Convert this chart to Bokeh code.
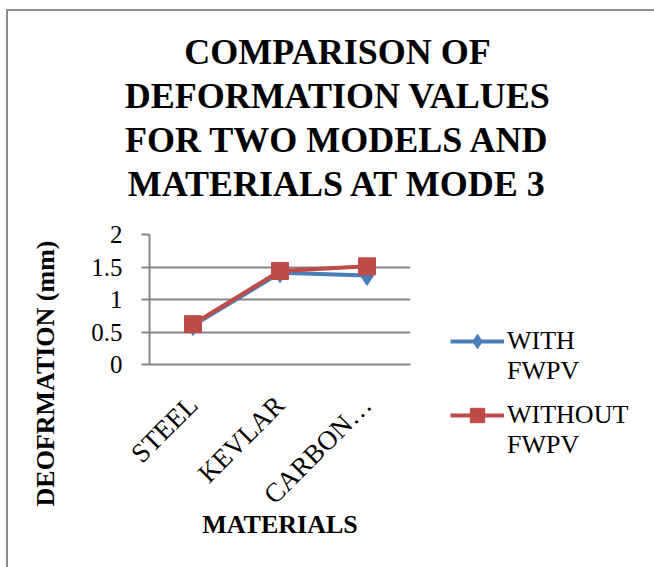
import math
from bokeh.plotting import figure
from bokeh.models import (FactorRange, Range1d, FixedTicker, Legend, LegendItem, Label)
from bokeh.layouts import column, row
from bokeh.embed import file_html
from bokeh.resources import INLINE

categories = ["STEEL", "KEVLAR", "CARBON…"]
with_fwpv = [0.60, 1.41, 1.37]
without_fwpv = [0.62, 1.44, 1.51]
y_ticks = [0, 0.5, 1, 1.5, 2]
y_tick_labels = ["0", "0.5", "1", "1.5", "2"]
series_names = ["WITH\nFWPV", "WITHOUT\nFWPV"]
title_lines = ["COMPARISON OF", "DEFORMATION VALUES", "FOR TWO MODELS AND", "MATERIALS AT MODE 3"]
y_title = "DEOFRMATION (mm)"
x_title = "MATERIALS"

BLUE = "#4A7EBB"
RED = "#BE4B48"
GRAY = "#868686"
FONT = "Liberation Serif"
NAN = float("nan")


def blank(w, h, left=0, top=0):
    f = figure(width=w, height=h, output_backend="svg", toolbar_location=None,
               x_range=Range1d(0, w), y_range=Range1d(0, h), x_axis_type=None, y_axis_type=None,
               min_border=0, min_border_left=left, min_border_top=top, frame_align=False)
    f.outline_line_color = None
    f.grid.grid_line_color = None
    f.border_fill_color = "white"
    f.background_fill_color = "white"
    return f


# ---- title ----
TW, TH = 648, 200
tfig = blank(TW, TH)
for i, line in enumerate(title_lines):
    tfig.add_layout(Label(x=329, y=TH - (40 + 44.3 * i), text=line, text_font=FONT,
                          text_font_style="bold", text_font_size="36px", text_align="center",
                          text_baseline="middle", text_color="black"))

# ---- y title ----
YW, RH = 70, 358
yfig = blank(YW, RH)
yfig.add_layout(Label(x=37, y=RH - 162, text=y_title, angle=math.pi / 2, text_font=FONT,
                      text_font_style="bold", text_font_size="26px", text_align="center",
                      text_baseline="middle", text_color="black"))

# ---- chart ----
p = figure(width=350, height=RH, output_backend="svg", toolbar_location=None,
           x_range=FactorRange(*categories, range_padding=0), y_range=Range1d(0, 2),
           min_border_left=71, min_border_right=18, min_border_top=23, min_border_bottom=205,
           frame_align=False)
p.outline_line_color = None
p.background_fill_color = "white"
p.border_fill_color = "white"

p.xgrid.grid_line_color = None
p.ygrid.grid_line_color = GRAY
p.ygrid.grid_line_width = 2
p.yaxis.ticker = FixedTicker(ticks=y_ticks)
p.yaxis.major_label_overrides = {t: s for t, s in zip(y_ticks, y_tick_labels)}
p.yaxis.axis_line_color = GRAY
p.yaxis.axis_line_width = 2
p.yaxis.major_tick_line_color = GRAY
p.yaxis.major_tick_line_width = 2
p.yaxis.major_tick_out = 8
p.yaxis.major_tick_in = 0
p.yaxis.minor_tick_line_color = None
p.yaxis.major_label_standoff = 19
p.yaxis.major_label_text_font = FONT
p.yaxis.major_label_text_font_size = "25px"
p.yaxis.major_label_text_color = "black"

p.xaxis.axis_line_color = GRAY
p.xaxis.axis_line_width = 2
p.xaxis.major_tick_line_color = None
p.xaxis.minor_tick_line_color = None
p.xaxis.major_label_orientation = math.pi / 4
p.xaxis.major_label_standoff = 30
p.xaxis.major_label_text_font = FONT
p.xaxis.major_label_text_font_size = "27px"
p.xaxis.major_label_text_color = "black"
p.xaxis.axis_label = x_title
p.xaxis.axis_label_text_font = FONT
p.xaxis.axis_label_text_font_style = "bold"
p.xaxis.axis_label_text_font_size = "26px"
p.xaxis.axis_label_text_color = "black"
p.xaxis.axis_label_standoff = -13

p.line(categories, with_fwpv, line_color=BLUE, line_width=4)
p.scatter(categories, with_fwpv, marker="diamond", size=20, fill_color=BLUE, line_color=BLUE)
p.line(categories, without_fwpv, line_color=RED, line_width=4)
p.scatter(categories, without_fwpv, marker="square", size=17, fill_color=RED, line_color=RED)

# ---- legend (proxy glyphs with no visible data) ----
# a blank first line keeps each legend glyph level with the first text line
LW = 228
lfig = blank(LW, RH, left=22, top=85)
ll1 = lfig.line([NAN], [NAN], line_color=BLUE, line_width=4)
ls1 = lfig.scatter([NAN], [NAN], marker="diamond", size=20, fill_color=BLUE, line_color=BLUE)
ll2 = lfig.line([NAN], [NAN], line_color=RED, line_width=4)
ls2 = lfig.scatter([NAN], [NAN], marker="square", size=17, fill_color=RED, line_color=RED)
legend_style = dict(margin=0, padding=0, border_line_color=None, background_fill_alpha=0,
                    label_text_font=FONT, label_text_font_size="26px", label_text_color="black",
                    glyph_width=54, glyph_height=36, label_standoff=3)
legend_a = Legend(items=[LegendItem(label=" \n" + series_names[0], renderers=[ll1, ls1])],
                  location="top_left", **legend_style)
legend_b = Legend(items=[LegendItem(label=" \n" + series_names[1], renderers=[ll2, ls2])],
                  location=(0, 109), **legend_style)
lfig.add_layout(legend_a, "center")
lfig.add_layout(legend_b, "center")

root = column(tfig, row(yfig, p, lfig, spacing=0), spacing=0)
root.margin = (9, 0, 0, 6)
root.styles = {"border-left": "2px solid #8C8C8C", "border-top": "2px solid #8C8C8C"}

open("out.html", "w").write(file_html(root, INLINE))
